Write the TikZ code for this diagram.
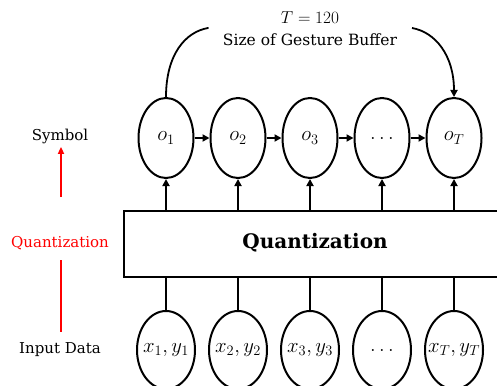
\documentclass[tikz,border=0pt]{standalone}
\usepackage{fontspec}
\setmainfont{DejaVu Serif}
\usetikzlibrary{arrows.meta,shapes.geometric}
\begin{document}
\begin{tikzpicture}[x=1pt,y=-1pt,
  sym/.style={draw,line width=2pt,ellipse,minimum width=55pt,minimum height=80pt,inner sep=0pt,font=\fontsize{21}{24}\selectfont},
  inp/.style={draw,line width=2pt,ellipse,minimum width=58pt,minimum height=78pt,inner sep=0pt},
  inl/.style={font=\fontsize{21}{24}\selectfont,inner sep=0pt},
  conn/.style={line width=1.8pt},
  arr/.style={line width=1.8pt,-{Triangle[length=7pt,width=7pt]}},
  lbl/.style={font=\fontsize{15}{17}\selectfont}]
\clip (0,0) rectangle (497,385);
\fill[white] (0,0) rectangle (497,385);
% symbol row
\node[sym] (o1) at (166,138) {$o_1$};
\node[sym] (o2) at (238,138) {$o_2$};
\node[sym] (o3) at (310,138) {$o_3$};
\node[sym] (o4) at (382,138) {$\dots$};
\node[sym] (o5) at (454,138) {$o_T$};
% input row
\node[inp,label={[inl]center:$x_1,y_1$}] (x1) at (166,350) {};
\node[inp,label={[inl]center:$x_2,y_2$}] (x2) at (238,350) {};
\node[inp,label={[inl]center:$x_3,y_3$}] (x3) at (310,350) {};
\node[inp,label={[inl]center:$\dots$}] (x4) at (382,350) {};
\node[inp,label={[inl]center:$x_T,y_T$}] (x5) at (454,350) {};
% quantization box
\node[draw,line width=2pt,minimum width=400pt,minimum height=66pt,anchor=west,inner sep=0pt] (q) at (123,244) {};
\node[font=\fontsize{20}{23}\selectfont\bfseries] (qt) at (315,243) {Quantization};
% arrows between symbols
\foreach \a/\b in {o1/o2,o2/o3,o3/o4,o4/o5}{\draw[arr] (\a.east) -- (\b.west);}
% connections
\foreach \i in {1,...,5}{
  \draw[arr] (q.north -| o\i) -- (o\i.south);
  \draw[conn] (x\i.north) -- (q.south -| x\i);
}
% buffer annotation
\node[align=center,font=\fontsize{15.5}{22}\selectfont,inner sep=1pt] (t) at (310,29) {\fontsize{17}{22}\selectfont$T = 120$\\Size of Gesture Buffer};
\coordinate (cl) at (208,28);
\coordinate (cr) at (412,28);
\draw[conn,line cap=round] (o1.north) .. controls (166,55) and (185,32) .. (cl);
\draw[arr] (cr) .. controls (435,32) and (454,55) .. (o5.north);
% left labels
\node[lbl] (ls) at (60,136) {Symbol};
\node[lbl,text=red] (lq) at (60,243) {Quantization};
\node[lbl] (li) at (60,350) {Input Data};
\coordinate (ra) at (61,197);
\coordinate (rb) at (61,260);
\coordinate (rc) at (61,332);
\draw[red,line width=1.8pt,-{Triangle[length=7pt,width=6pt]}] (ra) -- (ls.south -| ra);
\draw[red,line width=1.8pt] (rb) -- (rc);
\end{tikzpicture}
\end{document}
